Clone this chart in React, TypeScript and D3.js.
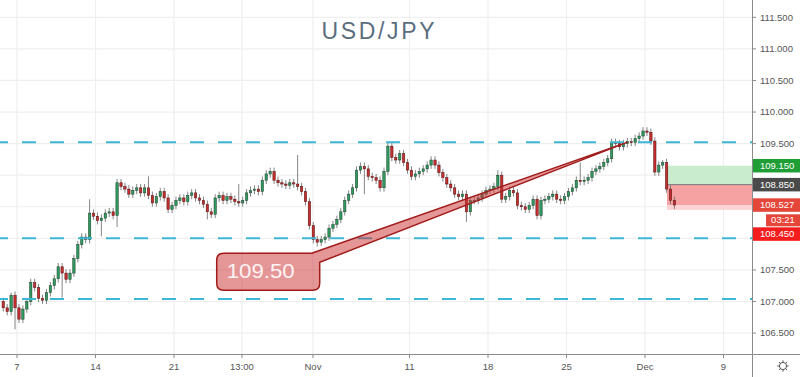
import React from 'react';
import * as d3 from 'd3';

const W = 800;
const H = 377;
const PLOT_RIGHT = 752;
const PLOT_BOTTOM = 354;

// 4 candles per trading day, starting Fri Oct 4 (day -1)
const closes: number[] = [
  106.90, 106.84, 107.10, 106.90, // Oct 4
  106.72, 106.88, 107.00, 107.30, // Oct 7
  107.22, 107.05, 107.02, 107.14,
  107.25, 107.36, 107.55, 107.45,
  107.35, 107.45, 107.68, 107.90,
  108.02, 107.98, 108.40, 108.35,
  108.28, 108.32, 108.40, 108.42, // Oct 14
  108.36, 108.88, 108.82, 108.78,
  108.70, 108.76, 108.80, 108.72,
  108.80, 108.68, 108.56, 108.66,
  108.74, 108.64, 108.46, 108.52,
  108.60, 108.64, 108.58, 108.68, // Oct 21
  108.72, 108.64, 108.60, 108.54,
  108.42, 108.38, 108.64, 108.68,
  108.60, 108.66, 108.62, 108.58,
  108.56, 108.60, 108.72, 108.76,
  108.78, 108.74, 108.92, 109.02, // Oct 28
  109.06, 108.92, 108.88, 108.86,
  108.84, 108.88, 108.86, 108.82,
  108.74, 108.58, 108.20, 107.98,
  107.94, 107.98, 108.02, 108.16, // Nov 1
  108.22, 108.30, 108.42, 108.60, // Nov 4
  108.70, 108.80, 109.08, 109.14,
  109.10, 108.98, 108.96, 108.92,
  108.80, 109.06, 109.46, 109.28,
  109.24, 109.34, 109.20, 109.08,
  108.98, 109.02, 109.06, 109.10, // Nov 11
  109.16, 109.24, 109.16, 109.04,
  108.96, 108.86, 108.80, 108.70,
  108.66, 108.70, 108.42, 108.60,
  108.60, 108.64, 108.70, 108.76,
  108.78, 108.82, 109.00, 108.62, // Nov 18
  108.66, 108.76, 108.72, 108.52,
  108.50, 108.46, 108.52, 108.62,
  108.36, 108.60, 108.62, 108.66,
  108.70, 108.62, 108.60, 108.66,
  108.74, 108.80, 108.92, 108.90, // Nov 25
  108.92, 108.96, 109.06, 109.10,
  109.14, 109.20, 109.26, 109.52,
  109.50, 109.45, 109.50, 109.53,
  109.52, 109.58, 109.62, 109.70,
  109.68, 109.54, 109.05, 109.16, // Dec 2
  109.20, 108.78, 108.60, 108.527,
];
const firstOpen = 107.0;
const highOverrides: [number, number][] = [
  [2, 107.14], [22, 108.62], [37, 108.98], [75, 109.32], [126, 109.08],
  [147, 109.2], [164, 109.76], [168, 109.24], [99, 109.52], [60, 108.86],
];
const lowOverrides: [number, number][] = [
  [3, 106.56], [15, 107.06], [25, 108.03], [29, 108.18], [80, 107.87],
  [118, 108.26], [136, 108.3], [52, 108.3], [92, 108.7],
];

const priceTicks = [111.5, 111.0, 110.5, 110.0, 109.5, 109.0, 108.5, 108.0, 107.5, 107.0, 106.5];
const priceTickLabels = ['111.500', '111.000', '110.500', '110.000', '109.500', '', '', '', '107.500', '107.000', '106.500'];
const dayTicks = [0, 5, 10, 14.33, 18.85, 25, 30, 35, 40, 45];
const dayTickLabels = ['7', '14', '21', '13:00', 'Nov', '11', '18', '25', 'Dec', '9'];
const levels = [109.52, 108.0, 107.04];

const entryPrice = 108.85;
const targetPrice = 109.15;
const stopPrice = 108.45;
const currentPrice = 108.527;
const positionStartDay = 41.4;
const countdownText = '03:21';

const calloutText = '109.50';
const calloutBoxDay = 12.72;
const calloutBoxPrice = 107.763;
const calloutTipDay = 38.85;
const calloutTipPrice = 109.52;

const titleText = 'USD/JPY';

const FONT = '"Liberation Sans", Arial, sans-serif';

export default function App() {
  const x = d3.scaleLinear().domain([0, 45]).range([17, 723.5]);
  const y = d3.scaleLinear().domain([111.5, 107.0]).range([17.3, 301.5]);

  const candles = closes.map((c, i) => {
    const o = i === 0 ? firstOpen : closes[i - 1];
    const day = -1 + (i + 0.5) / 4;
    let h = Math.max(o, c) + 0.06;
    let l = Math.min(o, c) - 0.06;
    const ho = highOverrides.find((d) => d[0] === i);
    const lo = lowOverrides.find((d) => d[0] === i);
    if (ho) h = ho[1];
    if (lo) l = lo[1];
    return { o, h, l, c, day };
  });

  const bw = 2.4;

  // callout geometry
  const bx = x(calloutBoxDay);
  const by = y(calloutBoxPrice);
  const bW = 103;
  const bH = 37;
  const r = 7;
  const tx = x(calloutTipDay);
  const ty = y(calloutTipPrice);
  const calloutPath = [
    `M${bx + r},${by}`,
    `L${bx + bW - 8},${by}`,
    `L${tx},${ty}`,
    `L${bx + bW},${by + 9}`,
    `L${bx + bW},${by + bH - r}`,
    `Q${bx + bW},${by + bH} ${bx + bW - r},${by + bH}`,
    `L${bx + r},${by + bH}`,
    `Q${bx},${by + bH} ${bx},${by + bH - r}`,
    `L${bx},${by + r}`,
    `Q${bx},${by} ${bx + r},${by}`,
    'Z',
  ].join(' ');

  const px0 = x(positionStartDay);
  const labelH = 13.5;
  const cdTop = y(currentPrice) + labelH / 2 + 2.5;
  const cdH = 12;
  const stopLabelY = Math.max(y(stopPrice), cdTop + cdH + 1 + labelH / 2);

  const labels = [
    { text: '109.150', yc: y(targetPrice), fill: '#1f9e36' },
    { text: '108.850', yc: y(entryPrice), fill: '#4a4a4a' },
    { text: '108.527', yc: y(currentPrice), fill: '#e5463a' },
    { text: '108.450', yc: stopLabelY, fill: '#f41d1d' },
  ];

  const gearTeeth = d3.range(8).map((k) => (k * Math.PI) / 4);

  return (
    <svg width={W} height={H} style={{ position: 'fixed', left: 0, top: 0, background: '#fff' }}>
      <rect x={0} y={0} width={W} height={H} fill="#ffffff" />
      {/* grid */}
      {priceTicks.map((p) => (
        <line key={'gh' + p} x1={0} x2={PLOT_RIGHT} y1={y(p)} y2={y(p)} stroke="#efefef" strokeWidth={1.2} />
      ))}
      {dayTicks.map((d) => (
        <line key={'gv' + d} x1={x(d)} x2={x(d)} y1={0} y2={PLOT_BOTTOM} stroke="#efefef" strokeWidth={1.2} />
      ))}

      {/* title */}
      <text x={378} y={38.5} textAnchor="middle" fontFamily={FONT} fontSize={23} fill="#5b6e80" textLength={113} lengthAdjust="spacing">
        {titleText}
      </text>

      {/* position tool */}
      <rect x={px0} y={y(targetPrice)} width={PLOT_RIGHT - px0} height={y(entryPrice) - y(targetPrice)} fill="#c9ecce" />
      <rect x={px0} y={y(entryPrice)} width={PLOT_RIGHT - px0} height={y(currentPrice) - y(entryPrice)} fill="#f7a2a2" />
      <rect x={px0} y={y(currentPrice)} width={PLOT_RIGHT - px0} height={y(stopPrice) - y(currentPrice)} fill="#fbd3d3" />
      <line x1={px0} x2={PLOT_RIGHT} y1={y(entryPrice)} y2={y(entryPrice)} stroke="#777" strokeWidth={1} />

      {/* candles */}
      {candles.map((k, i) => {
        const up = k.c >= k.o;
        const cx = x(k.day);
        const top = y(Math.max(k.o, k.c));
        const bot = y(Math.min(k.o, k.c));
        return (
          <g key={'c' + i}>
            <line x1={cx} x2={cx} y1={y(k.h)} y2={y(k.l)} stroke="#666" strokeWidth={0.8} />
            <rect
              x={cx - bw / 2}
              y={top}
              width={bw}
              height={Math.max(1, bot - top)}
              fill={up ? '#2f9a5e' : '#c62d2d'}
              stroke={up ? '#1d3d2b' : '#4e1313'}
              strokeWidth={0.5}
            />
          </g>
        );
      })}

      {/* horizontal levels */}
      {levels.map((p) => (
        <line
          key={'lv' + p}
          x1={0}
          x2={PLOT_RIGHT}
          y1={y(p)}
          y2={y(p)}
          stroke="#3cb8d6"
          strokeWidth={2}
          strokeDasharray="14 14"
          strokeDashoffset={6}
        />
      ))}

      {/* callout */}
      <path d={calloutPath} fill="rgba(204,48,48,0.5)" stroke="#a11b1b" strokeWidth={1.5} strokeLinejoin="round" />
      <text x={bx + 10} y={by + 24.5} fontFamily={FONT} fontSize={21} fill="#fff3f3" textLength={68} lengthAdjust="spacingAndGlyphs">
        {calloutText}
      </text>

      {/* axes */}
      <line x1={PLOT_RIGHT + 0.5} x2={PLOT_RIGHT + 0.5} y1={0} y2={H} stroke="#8a8a8a" strokeWidth={1} />
      <line x1={0} x2={W} y1={PLOT_BOTTOM + 0.5} y2={PLOT_BOTTOM + 0.5} stroke="#8a8a8a" strokeWidth={1} />
      {priceTicks.map((p, i) =>
        priceTickLabels[i] ? (
          <g key={'pt' + p}>
            <line x1={PLOT_RIGHT} x2={PLOT_RIGHT + 4} y1={y(p)} y2={y(p)} stroke="#8a8a8a" />
            <text x={760} y={y(p) + 3.3} fontFamily={FONT} fontSize={9.5} fill="#555">
              {priceTickLabels[i]}
            </text>
          </g>
        ) : null
      )}
      {dayTicks.map((d, i) => (
        <g key={'dt' + d}>
          <line x1={x(d)} x2={x(d)} y1={PLOT_BOTTOM} y2={PLOT_BOTTOM + 4} stroke="#8a8a8a" />
          <text x={x(d)} y={369.5} textAnchor="middle" fontFamily={FONT} fontSize={9.5} fill="#555">
            {dayTickLabels[i]}
          </text>
        </g>
      ))}

      {/* price labels */}
      {labels.map((lb) => (
        <g key={'lb' + lb.text}>
          <rect x={PLOT_RIGHT + 1} y={lb.yc - labelH / 2} width={W - PLOT_RIGHT - 1} height={labelH} fill={lb.fill} />
          <text x={760} y={lb.yc + 3.3} fontFamily={FONT} fontSize={9.5} fill="#ffffff">
            {lb.text}
          </text>
        </g>
      ))}
      <rect x={766} y={cdTop} width={W - 766} height={cdH} fill="#e5463a" />
      <text x={783} y={cdTop + 9} textAnchor="middle" fontFamily={FONT} fontSize={9.5} fill="#ffffff">
        {countdownText}
      </text>

      {/* gear */}
      <g transform="translate(783,366)" stroke="#555" fill="none" strokeWidth={1}>
        <circle r={3.6} />
        {gearTeeth.map((a, i) => (
          <line key={'gt' + i} x1={Math.cos(a) * 3.6} y1={Math.sin(a) * 3.6} x2={Math.cos(a) * 5.6} y2={Math.sin(a) * 5.6} />
        ))}
      </g>
    </svg>
  );
}
